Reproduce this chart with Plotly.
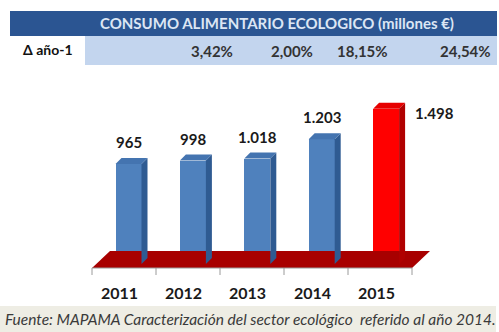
import plotly.graph_objects as go

# ---------------- data ----------------
years = ["2011", "2012", "2013", "2014", "2015"]
values = [965, 998, 1018, 1203, 1498]
value_labels = ["965", "998", "1.018", "1.203", "1.498"]
growth_labels = ["3,42%", "2,00%", "18,15%", "24,54%"]
title_text = "CONSUMO ALIMENTARIO ECOLOGICO (millones €)"
row_label = "Δ año-1"
source_text = "Fuente: MAPAMA Caracterización del sector ecológico  referido al año 2014."

# ---------------- geometry / style ----------------
W, H = 499, 332
X0, DX = 128.5, 64.4          # pixel centre of first bar, pixel spacing
ZERO, SCALE = 264, 0.1036     # pixel row of value 0, pixels per unit
BAR_PX = 26
SIDE_PX, LIFT_PX = 6, 6

def ux(p):  # horizontal pixels -> x units
    return p / DX

def uy(p):  # vertical pixels -> y units
    return p / SCALE

xr = [(0 - X0) / DX, (W - X0) / DX]
yr = [(ZERO - H) / SCALE, ZERO / SCALE]

front_cols = ["#4F81BD"] * 4 + ["#FF0000"]
side_cols = ["#2F5B92"] * 4 + ["#B00000"]
top_cols = ["#4474B0"] * 4 + ["#E60000"]
floor_col = "#A80000"

fig = go.Figure()

bw = ux(BAR_PX)
sdx = ux(SIDE_PX)
sdy = uy(LIFT_PX)
xs = list(range(len(values)))

# floor
n = len(values)
fl, fr = ux(92 - X0), ux(412 - X0)
f_front, f_back = -uy(268 - ZERO), uy(ZERO - 251)
slant = ux(18)
fig.add_trace(go.Scatter(
    x=[fl, fr, fr + slant, fl + slant, fl],
    y=[f_front, f_front, f_back, f_back, f_front],
    fill="toself", fillcolor=floor_col, mode="lines",
    line=dict(color=floor_col, width=0), hoverinfo="skip", showlegend=False))

# bar side and top faces (3D look)
for i, v in enumerate(values):
    xa = i + bw / 2
    fig.add_trace(go.Scatter(
        x=[xa, xa + sdx, xa + sdx, xa, xa],
        y=[0, sdy, v + sdy, v, 0],
        fill="toself", fillcolor=side_cols[i], mode="lines",
        line=dict(width=0, color=side_cols[i]), hoverinfo="skip", showlegend=False))
    xl = i - bw / 2
    fig.add_trace(go.Scatter(
        x=[xl, xa, xa + sdx, xl + sdx, xl],
        y=[v, v, v + sdy, v + sdy, v],
        fill="toself", fillcolor=top_cols[i], mode="lines",
        line=dict(width=0, color=top_cols[i]), hoverinfo="skip", showlegend=False))

# front faces
fig.add_trace(go.Bar(x=xs, y=values, width=bw, marker=dict(color=front_cols, line=dict(width=0)),
                     showlegend=False, hoverinfo="skip"))

shapes = []
# axis line and ticks under floor
tick_y0 = f_front
tick_y1 = -uy(275 - ZERO)
shapes.append(dict(type="line", xref="x", yref="y", x0=fl, x1=fr, y0=tick_y0, y1=tick_y0,
                   line=dict(color="#9A9A9A", width=1)))
step = (fr - fl) / n
for k in range(n + 1):
    xt = fl + k * step
    shapes.append(dict(type="line", xref="x", yref="y", x0=xt, x1=xt, y0=tick_y0, y1=tick_y1,
                       line=dict(color="#9A9A9A", width=1)))

# header table backgrounds
def pxp(p):
    return p / W

def pyp(p):
    return 1 - p / H

shapes.append(dict(type="rect", xref="paper", yref="paper", x0=pxp(10), x1=pxp(497),
                   y0=pyp(36), y1=pyp(11), fillcolor="#2B5592", line=dict(width=0), layer="below"))
shapes.append(dict(type="rect", xref="paper", yref="paper", x0=pxp(85), x1=pxp(497),
                   y0=pyp(65), y1=pyp(36), fillcolor="#C3D5EE", line=dict(width=0), layer="below"))
# source band
shapes.append(dict(type="rect", xref="paper", yref="paper", x0=pxp(0), x1=pxp(496),
                   y0=pyp(332), y1=pyp(306), fillcolor="#EEEDE4", line=dict(width=0), layer="below"))

annotations = []
font_b = "Lato"
annotations.append(dict(text=f"<b>{title_text}</b>", xref="paper", yref="paper", x=pxp(277), y=pyp(23.5),
                        showarrow=False, font=dict(family=font_b, size=15, color="#DCE6F4"),
                        xanchor="center", yanchor="middle"))
annotations.append(dict(text=f"<b>{row_label}</b>", xref="paper", yref="paper", x=pxp(48), y=pyp(50),
                        showarrow=False, font=dict(family=font_b, size=14, color="#111111"),
                        xanchor="center", yanchor="middle"))
growth_right_px = [235, 315, 390, 493]
for g, xp in zip(growth_labels, growth_right_px):
    annotations.append(dict(text=f"<b>{g}</b>", xref="paper", yref="paper", x=pxp(xp), y=pyp(51),
                            showarrow=False, font=dict(family=font_b, size=15, color="#333333"),
                            xanchor="right", yanchor="middle"))

# value labels
for i, (v, t) in enumerate(zip(values, value_labels)):
    if i < n - 1:
        annotations.append(dict(text=f"<b>{t}</b>", x=i, y=v, xref="x", yref="y", showarrow=False,
                                yshift=22, xanchor="center", yanchor="middle",
                                font=dict(family=font_b, size=15, color="#1A1A1A")))
    else:
        annotations.append(dict(text=f"<b>{t}</b>", x=i + bw / 2 + sdx, y=v, xref="x", yref="y",
                                showarrow=False, xshift=8, yshift=-4, xanchor="left", yanchor="middle",
                                font=dict(family=font_b, size=15, color="#1A1A1A")))

# year labels
for i, yv in enumerate(years):
    annotations.append(dict(text=f"<b>{yv}</b>", x=i, y=0, xref="x", yref="y", showarrow=False,
                            xshift=-9.5, yshift=-28, xanchor="center", yanchor="middle",
                            font=dict(family=font_b, size=16, color="#1A1A1A")))

annotations.append(dict(text=source_text, xref="paper", yref="paper", x=pxp(251), y=pyp(319),
                        showarrow=False, xanchor="center", yanchor="middle",
                        font=dict(family=font_b, size=15.5, color="#3A3A3A", style="italic")))

fig.update_layout(
    width=W, height=H, margin=dict(l=0, r=0, t=0, b=0),
    paper_bgcolor="white", plot_bgcolor="rgba(0,0,0,0)",
    xaxis=dict(range=xr, visible=False, fixedrange=True),
    yaxis=dict(range=yr, visible=False, fixedrange=True),
    shapes=shapes, annotations=annotations, bargap=0,
)

fig.write_html("out.html")
